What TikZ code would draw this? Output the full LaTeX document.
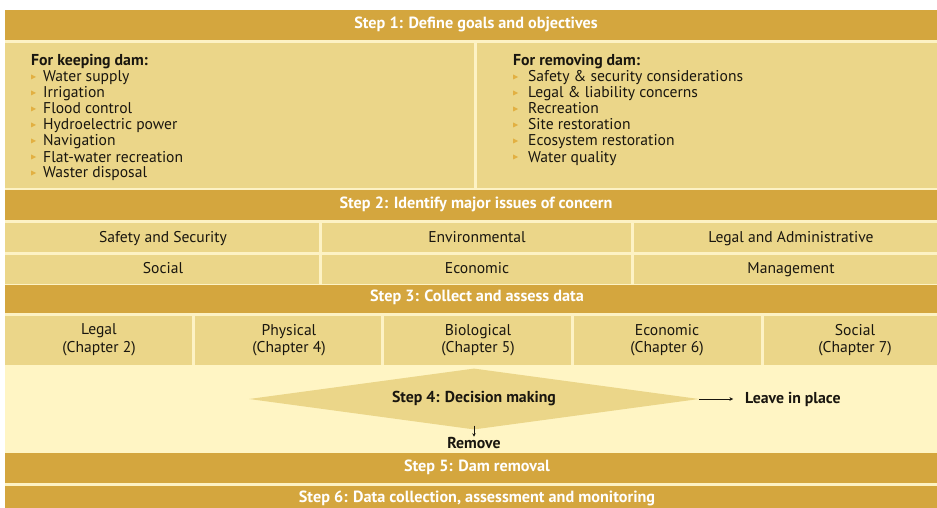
\documentclass[tikz,border=0pt]{standalone}
\usepackage{fontspec}
\setmainfont{PT Sans}
\usetikzlibrary{shapes.geometric,arrows.meta,positioning}
\definecolor{gold}{RGB}{212,166,62}
\definecolor{sand}{RGB}{235,214,137}
\definecolor{pale}{RGB}{255,245,196}
\definecolor{cream}{RGB}{253,242,196}
\definecolor{ink}{RGB}{25,22,15}
\definecolor{tip}{RGB}{226,176,66}

\begin{document}
\begin{tikzpicture}[x=1pt,y=-1pt,
        font=\fontsize{15.6}{17.5}\selectfont,
        bar/.style={fill=gold},
        cell/.style={fill=sand},
        head/.style={text=white,font=\fontsize{16.2}{18}\selectfont\bfseries},
        txt/.style={text=ink,inner sep=0pt},
        bold/.style={txt,font=\fontsize{15.8}{17.5}\selectfont\bfseries},
        arr/.style={draw=ink,-{Stealth[length=3.5pt,width=3.5pt]}}]
    \useasboundingbox (0,0) rectangle (937,508);
    \fill[cream] (5,10) rectangle (937,508);
    % step 1
    \fill[bar] (5,10) rectangle (937,40);
    \node[head] (s1) at (476,24) {Step 1: Define goals and objectives};
    \fill[cell] (5,43) rectangle (474,188);
    \fill[cell] (477,43) rectangle (937,188);
    \node[bold, anchor=base west] (keep) at (31,66) {For keeping dam:};
    \foreach \t [count=\i] in {Water supply, Irrigation, Flood control,
            Hydroelectric power, Navigation, Flat-water recreation, Waster disposal}{
        \fill[tip] (31,{61+16*\i-2.5}) -- ++(5,2.5) -- ++(-5,2.5) -- cycle;
        \node[txt, anchor=base west] (k\i) at (43,{66+16*\i}) {\t};
    }
    \node[bold, anchor=base west] (rem) at (513,66) {For removing dam:};
    \foreach \t [count=\i] in {Safety \& security considerations,
            Legal \& liability concerns, Recreation, Site restoration,
            Ecosystem restoration, Water quality}{
        \fill[tip] (513,{61+16*\i-2.5}) -- ++(5,2.5) -- ++(-5,2.5) -- cycle;
        \node[txt, anchor=base west] (r\i) at (528,{66+16*\i}) {\t};
    }
    % step 2
    \fill[bar] (5,190) rectangle (937,220);
    \node[head] (s2) at (476,204) {Step 2: Identify major issues of concern};
    \fill[cell] (5,223) rectangle (319,252);
    \fill[cell] (322,223) rectangle (631,252);
    \fill[cell] (634,223) rectangle (937,252);
    \fill[cell] (5,255) rectangle (319,284);
    \fill[cell] (322,255) rectangle (631,284);
    \fill[cell] (634,255) rectangle (937,284);
    \node[txt, anchor=base] (safe) at (163,242) {Safety and Security};
    \node[txt, anchor=base] (env) at (477,242) {Environmental};
    \node[txt, anchor=base] (legadm) at (791,242) {Legal and Administrative};
    \node[txt, anchor=base] (soc) at (163,273) {Social};
    \node[txt, anchor=base] (eco) at (477,273) {Economic};
    \node[txt, anchor=base] (man) at (791,273) {Management};
    % step 3
    \fill[bar] (5,285) rectangle (937,313);
    \node[head] (s3) at (477,297) {Step 3: Collect and assess data};
    \fill[cell] (5,316) rectangle (192,365);
    \fill[cell] (195,316) rectangle (381,365);
    \fill[cell] (384,316) rectangle (571,365);
    \fill[cell] (574,316) rectangle (761,365);
    \fill[cell] (764,316) rectangle (937,365);
    \node[txt, align=center] (c2) at (99,340) {Legal\\(Chapter 2)};
    \node[txt, align=center] (c4) at (289,340) {Physical\\(Chapter 4)};
    \node[txt, align=center] (c5) at (478,340) {Biological\\(Chapter 5)};
    \node[txt, align=center] (c6) at (667,340) {Economic\\(Chapter 6)};
    \node[txt, align=center] (c7) at (855,340) {Social\\(Chapter 7)};
    % step 4
    \fill[pale] (5,365) rectangle (937,453);
    \node[bold, shape=diamond, fill=sand, aspect=7.4, minimum width=450pt,
        minimum height=61pt] (dm) at (474,399) {Step 4: Decision making};
    \node[bold, anchor=west] (lv) at (745,399) {Leave in place};
    \draw[arr] (dm.east) -- ([xshift=-12pt]lv.west);
    \node[bold, below=7pt of dm.south, anchor=north] (rm) {Remove};
    \draw[arr] ([yshift=4pt]dm.south) -- (rm.north);
    % steps 5 and 6
    \fill[bar] (5,453) rectangle (937,483);
    \node[head] (s5) at (477,467) {Step 5: Dam removal};
    \fill[bar] (5,486) rectangle (937,512);
    \node[head] (s6) at (477,498) {Step 6: Data collection, assessment and monitoring};
\end{tikzpicture}
\end{document}
